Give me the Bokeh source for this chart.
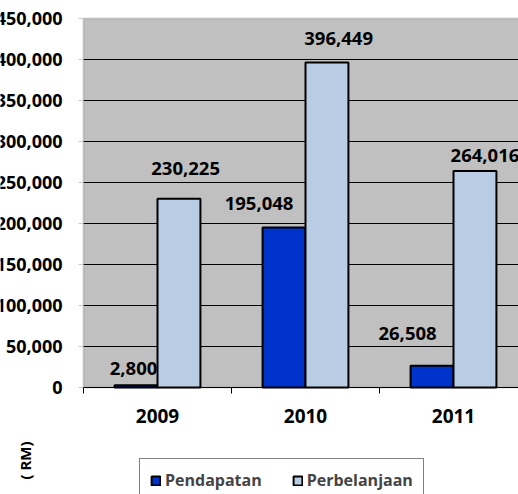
import math
from bokeh.plotting import figure
from bokeh.models import Range1d, ColumnDataSource, LabelSet, Label, Legend, LegendItem, BoxAnnotation
from bokeh.core.properties import value
from bokeh.embed import file_html
from bokeh.resources import INLINE

# ---- data ----
years = ["2009", "2010", "2011"]
pendapatan = [2800, 195048, 26508]
perbelanjaan = [230225, 396449, 264016]
y_ticks = [0, 50000, 100000, 150000, 200000, 250000, 300000, 350000, 400000, 450000]

# ---- layout / styles ----
W, H = 518, 494
LEFT_PX, TOP_PX, BOTTOM_PX = 83, 18, 387   # plot-area edges on the canvas
CAT_PX = 148                                # pixels per category
UNIT = (y_ticks[-1] - y_ticks[0]) / (BOTTOM_PX - TOP_PX)  # data units per pixel
DARK = "#0033CC"
LIGHT = "#B9CDE5"
GREY = "#C0C0C0"
FONT = "Open Sans"
BAR_W = 0.29
pend_off = [(-2.5, 17), (-25, 24), (-24.5, 32)]
perb_off = [(6.7, 30), (11.7, 24), (10, 16)]

n = len(years)
centers = [i + 0.5 for i in range(n)]
x_pend = [c - BAR_W / 2 for c in centers]
x_perb = [c + BAR_W / 2 for c in centers]

x_range = Range1d(-LEFT_PX / CAT_PX, (W - LEFT_PX) / CAT_PX)
y_range = Range1d(-(H - BOTTOM_PX) * UNIT, y_ticks[-1] + TOP_PX * UNIT)

p = figure(width=W, height=H, x_range=x_range, y_range=y_range,
           x_axis_type=None, y_axis_type=None, output_backend="svg", toolbar_location=None,
           min_border=0)
p.background_fill_color = "white"
p.border_fill_color = "white"
p.outline_line_color = None
p.grid.visible = False

# plot area
p.add_layout(BoxAnnotation(left=0, right=n + 1, bottom=y_ticks[0], top=y_ticks[-1],
                           fill_color=GREY, fill_alpha=1, line_color="#808080", line_width=2,
                           level="underlay"))

# gridlines (from tick values) and tick marks
grid_y = [t for t in y_ticks if t < y_ticks[-1]]
p.segment(x0=[0] * len(grid_y), x1=[n + 1] * len(grid_y), y0=grid_y, y1=grid_y,
          line_color="black", line_width=1)
p.segment(x0=[-5 / CAT_PX] * len(y_ticks), x1=[0] * len(y_ticks), y0=y_ticks, y1=y_ticks,
          line_color="#C8C8C8", line_width=1)
bounds = list(range(n + 1))
p.segment(x0=bounds, x1=bounds, y0=[0] * len(bounds), y1=[-6 * UNIT] * len(bounds),
          line_color="black", line_width=1)

# bars
src_pend = ColumnDataSource(dict(x=x_pend, top=pendapatan))
src_perb = ColumnDataSource(dict(x=x_perb, top=perbelanjaan))
r1 = p.vbar(x="x", top="top", width=BAR_W, bottom=0, source=src_pend,
            fill_color=DARK, line_color="black", line_width=2)
r2 = p.vbar(x="x", top="top", width=BAR_W, bottom=0, source=src_perb,
            fill_color=LIGHT, line_color="black", line_width=2)

# y tick labels
ysrc = ColumnDataSource(dict(x=[0] * len(y_ticks), y=y_ticks, text=[f"{t:,}" for t in y_ticks]))
p.add_layout(LabelSet(x="x", y="y", text="text", source=ysrc, x_offset=-21,
                      text_font=value(FONT), text_font_style="bold", text_font_size="18px",
                      text_color="black", text_align="right", text_baseline="middle"))

# x tick labels
xsrc = ColumnDataSource(dict(x=centers, y=[0] * n, text=years))
p.add_layout(LabelSet(x="x", y="y", text="text", source=xsrc, y_offset=-28,
                      text_font=value(FONT), text_font_style="bold", text_font_size="19px",
                      text_color="black", text_align="center", text_baseline="middle"))

# data labels
lab_src = ColumnDataSource(dict(
    x=x_pend + x_perb,
    y=pendapatan + perbelanjaan,
    text=[f"{v:,}" for v in pendapatan + perbelanjaan],
    xo=[o[0] for o in pend_off + perb_off],
    yo=[o[1] for o in pend_off + perb_off],
))
p.add_layout(LabelSet(x="x", y="y", text="text", x_offset="xo", y_offset="yo", source=lab_src,
                      text_font=value(FONT), text_font_style="bold", text_font_size="18.5px",
                      text_color="black", text_align="center", text_baseline="middle"))

# unit label
p.add_layout(Label(x=(24.5 - LEFT_PX) / CAT_PX, y=-(460 - BOTTOM_PX) * UNIT, text="( RM)",
                   angle=math.pi / 2, text_font=FONT, text_font_style="bold",
                   text_font_size="15px", text_color="black",
                   text_align="center", text_baseline="middle"))

legend = Legend(items=[LegendItem(label="Pendapatan", renderers=[r1]),
                       LegendItem(label="Perbelanjaan", renderers=[r2])],
                location=(139, -8), orientation="horizontal", padding=10, spacing=30,
                glyph_width=11, glyph_height=11, label_standoff=4,
                label_text_font=FONT, label_text_font_style="bold", label_text_font_size="16px",
                label_height=20,
                border_line_color="black", border_line_width=1, background_fill_color="white",
                background_fill_alpha=1)
p.add_layout(legend, "center")

open("out.html", "w").write(file_html(p, INLINE))
